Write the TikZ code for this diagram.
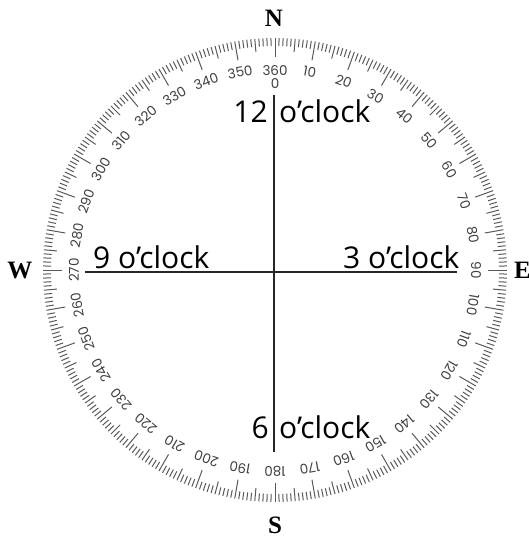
\documentclass[tikz,border=0pt]{standalone}
\usepackage{fontspec}
\setmainfont{Open Sans}
\newfontfamily\numfont{Poppins}
\newfontfamily\dirfont{Liberation Serif}
\begin{document}
\begin{tikzpicture}[x=1pt,y=-1pt,
  tick/.style={draw=black!65,line width=1pt},
  deg/.style={font=\numfont\fontsize{13.5}{13.5}\selectfont,text=black!75,inner sep=0pt},
  clock/.style={font=\fontsize{30}{30}\selectfont,inner sep=0pt},
  dir/.style={font=\dirfont\bfseries\fontsize{25}{25}\selectfont,inner sep=0pt},
  axis/.style={draw=black!85,line width=1.2pt}]
\useasboundingbox (0,0) rectangle (528,536);
% ticks
\foreach \t in {0,...,359}{
  \pgfmathsetmacro\L{mod(\t,10)==0 ? 19 : (mod(\t,5)==0 ? 13 : 8)}
  \draw[tick] ({275+232*sin(\t)},{270-232*cos(\t)}) -- ({275+(232-\L)*sin(\t)},{270-(232-\L)*cos(\t)});
}
% degree labels
\foreach \t in {10,20,...,350}{
  \node[deg,rotate=-\t] (d\t) at ({275+201*sin(\t)},{270-201*cos(\t)}) {\t};
}
\node[deg] (d360) at (275,71) {360};
\node[deg] (d0) at (275,84) {0};
% directions
\node[dir] (N) at (274,18) {N};
\node[dir] (S) at (275,525) {S};
\node[dir] (W) at (20,270) {W};
\node[dir,anchor=west] (E) at (514,270) {E};
% axes
\coordinate (top) at (274,95);
\coordinate (bot) at (274,452);
\coordinate (lft) at (85,272);
\coordinate (rgt) at (457,272);
\draw[axis] (top) -- (bot);
\draw[axis] (lft) -- (rgt);
% clock labels
\node[clock,anchor=base east] (c12a) at (268,122) {12};
\node[clock,anchor=base west] (c12b) at (279,122) {o’clock};
\node[clock,anchor=base east] (c6a) at (269,438) {6};
\node[clock,anchor=base west] (c6b) at (279,438) {o’clock};
\node[clock,anchor=base west] (c9) at (93,268) {9 o’clock};
\node[clock,anchor=base west] (c3) at (343,268) {3 o’clock};
\end{tikzpicture}
\end{document}
